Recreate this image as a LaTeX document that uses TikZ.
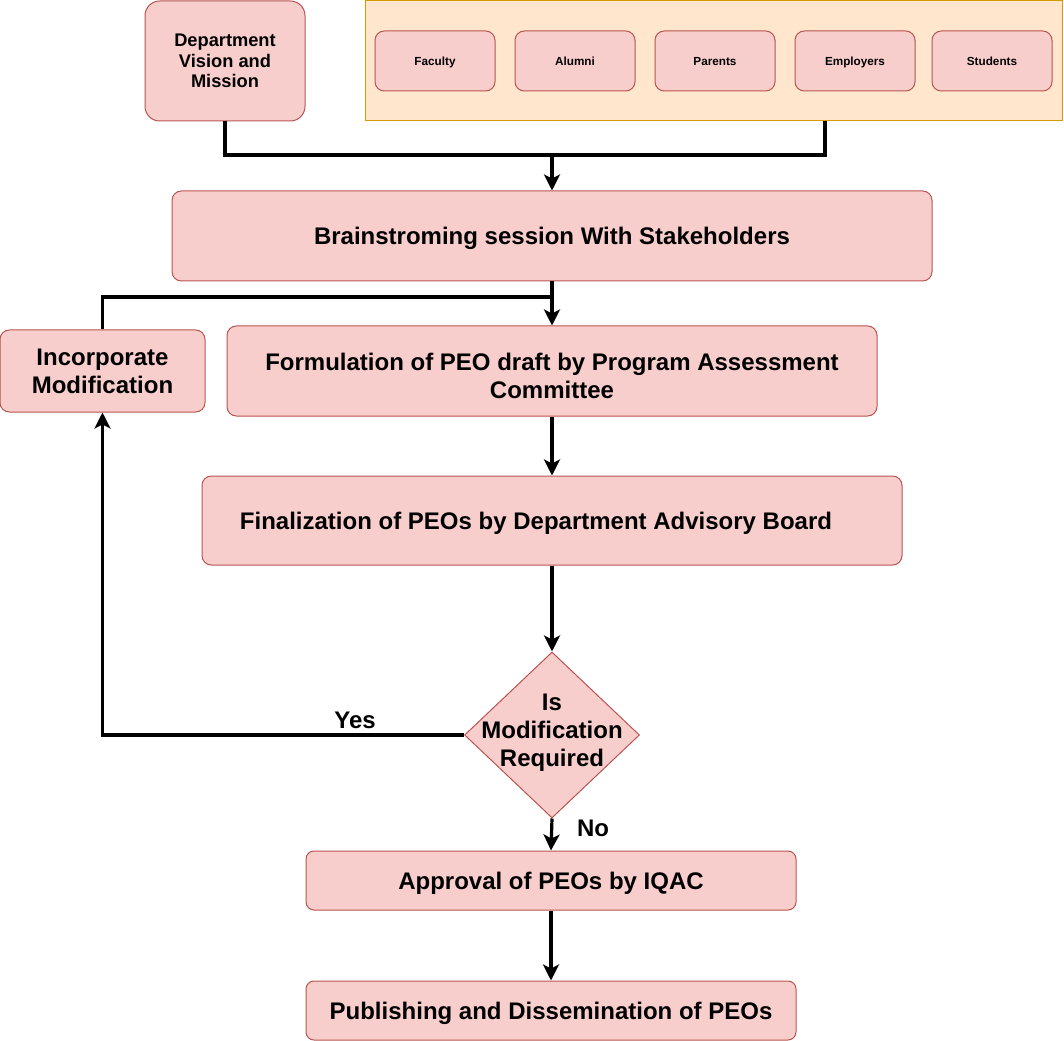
\documentclass[tikz,border=0pt]{standalone}
\usepackage{fontspec}
\setmainfont{Liberation Sans}
\usetikzlibrary{shapes.geometric,arrows.meta}
\definecolor{boxfill}{HTML}{F8CECC}
\definecolor{boxline}{HTML}{B85450}
\definecolor{grpfill}{HTML}{FFE6CC}
\definecolor{grpline}{HTML}{D79B00}
\tikzset{
  pbox/.style={draw=boxline, fill=boxfill, line width=0.75pt, rounded corners=7pt,
    inner sep=0pt, align=center, text depth=0pt, font=\bfseries\fontsize{18}{21}\selectfont},
  smallbox/.style={pbox, minimum width=90pt, minimum height=45pt, font=\bfseries\fontsize{8.8}{10}\selectfont},
  conn/.style={line width=2.4pt, -{Stealth[length=12pt,width=12pt,inset=3pt]}},
  plain/.style={line width=2.4pt},
  lbl/.style={font=\bfseries\fontsize{18}{21}\selectfont, inner sep=0pt, align=center, text depth=0pt}
}
\begin{document}
\begin{tikzpicture}[x=0.75pt,y=-0.75pt]
\useasboundingbox (0,0) rectangle (1064,1041);
% top row
\node[pbox, minimum width=120pt, minimum height=90pt, rounded corners=11pt, font=\bfseries\fontsize{13.7}{15.5}\selectfont] (dept) at (225,61) {Department\\Vision and\\Mission};
\node[draw=grpline, fill=grpfill, line width=0.75pt, minimum width=522.75pt, minimum height=90pt, inner sep=0pt] (group) at (713.5,61) {};
\node[smallbox] (fac) at (435,61) {Faculty};
\node[smallbox] (alu) at (575,61) {Alumni};
\node[smallbox] (par) at (715,61) {Parents};
\node[smallbox] (emp) at (855,61) {Employers};
\node[smallbox] (stu) at (992,61) {Students};
% main flow
\node[pbox, minimum width=570pt, minimum height=67.5pt] (brain) at (552,236) {Brainstroming session With Stakeholders};
\node[pbox, minimum width=487.5pt, minimum height=67.5pt] (form) at (552,371) {};
\node[lbl] (formtxt) at (552,376) {Formulation of PEO draft by Program Assessment\\Committee};
\node[pbox, minimum width=153.75pt, minimum height=61.5pt] (inc) at (102.5,371) {Incorporate\\Modification};
\node[pbox, minimum width=525pt, minimum height=66.75pt] (final) at (552,520.5) {};
\node[lbl] (finaltxt) at (536,520.5) {Finalization of PEOs by Department Advisory Board};
\node[draw=boxline, fill=boxfill, line width=0.75pt, diamond, minimum width=131.25pt, minimum height=124.5pt, inner sep=0pt] (dec) at (552,735) {};
\node[lbl] (dectxt) at (552,730) {Is\\Modification\\Required};
\node[pbox, minimum width=367.5pt, minimum height=44.25pt, rounded corners=6pt] (appr) at (551,880.5) {Approval of PEOs by IQAC};
\node[pbox, minimum width=367.5pt, minimum height=44.25pt, rounded corners=6pt] (pub) at (551,1010.5) {Publishing and Dissemination of PEOs};
% connectors
\coordinate (gout) at (825,121);
\coordinate (merge) at (552,155);
\draw[plain] (dept.south) |- (merge);
\draw[plain] (gout) |- (merge);
\draw[conn] (merge) -- (brain.north);
\draw[conn] (brain.south) -- (form.north);
\draw[plain] (inc.north) |- (552,297);
\draw[conn] (form.south) -- (final.north);
\draw[conn] (final.south) -- (dec.north);
\draw[conn] (dec.west) -| (inc.south);
\draw[conn] (dec.south) -- (appr.north);
\draw[conn] (appr.south) -- (pub.north);
\node[lbl] (yes) at (355,720) {Yes};
\node[lbl] (no) at (593,828) {No};
\end{tikzpicture}
\end{document}
